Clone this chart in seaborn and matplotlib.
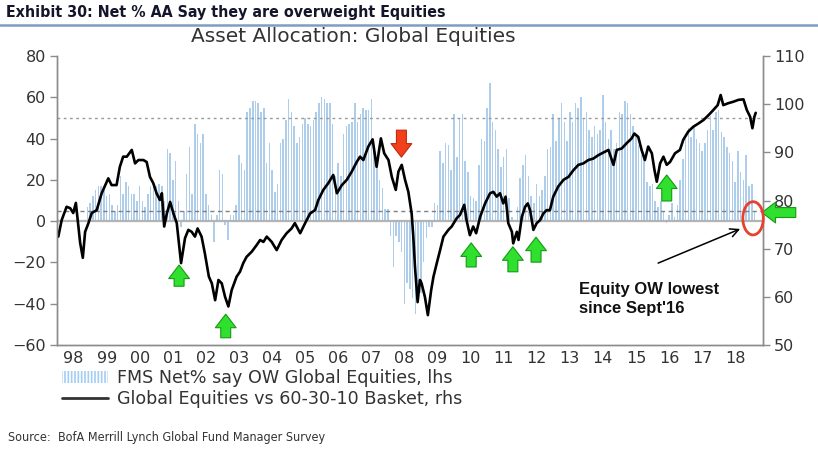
"""Asset Allocation: Global Equities - FMS net % overweight vs relative performance"""
import numpy as np
import pandas as pd
import matplotlib
matplotlib.use("Agg")
import matplotlib.pyplot as plt
import seaborn as sns
from matplotlib import font_manager
from matplotlib.lines import Line2D
from matplotlib.patches import Patch, Ellipse

# ---------------------------
# Datos
# ---------------------------
# FMS net % overweight global equities (monthly, lhs), first survey Dec 1998
fms_start = 1998 + 11 / 12
fms_1998 = [7]
fms_1999 = [9, 12, 15, 17, 17, 15, 12, 13, 8, 5, 8, 22]
fms_2000 = [13, 19, 17, 13, 13, 10, 17, 10, 7, 13, 17, 18]
fms_2001 = [17, 18, 17, 10, 35, 33, 20, 29, 10, -3, 5, 23]
fms_2002 = [36, 13, 47, 42, 38, 42, 13, 8, 3, -10, 3, 25]
fms_2003 = [23, -2, -9, 3, 3, 8, 32, 28, 25, 53, 55, 58]
fms_2004 = [58, 57, 53, 55, 28, 38, 25, 14, 18, 38, 40, 49]
fms_2005 = [59, 53, 46, 38, 41, 47, 50, 47, 46, 49, 53, 57]
fms_2006 = [60, 59, 57, 57, 47, 22, 28, 22, 42, 46, 47, 48]
fms_2007 = [57, 48, 52, 55, 54, 54, 59, 35, 27, 20, 16, 6]
fms_2008 = [6, -7, -22, -7, -10, -15, -40, -30, -33, -37, -45, -37]
fms_2009 = [-35, -20, -8, -3, -3, 9, 8, 34, 28, 38, 37, 25]
fms_2010 = [52, 31, 50, 52, 29, 24, 12, 11, 10, 27, 40, 39]
fms_2011 = [55, 67, 48, 44, 35, 26, 31, 35, 11, 2, 0, 7]
fms_2012 = [21, 27, 32, 22, 12, 9, 18, 12, 15, 22, 35, 36]
fms_2013 = [52, 39, 50, 57, 48, 39, 53, 48, 57, 55, 60, 50]
fms_2014 = [53, 44, 41, 46, 42, 44, 61, 48, 40, 44, 35, 38]
fms_2015 = [53, 52, 58, 57, 52, 46, 42, 37, 32, 30, 19, 17]
fms_2016 = [18, 10, 7, 10, 5, -1, 3, 9, 2, 8, 20, 30]
fms_2017 = [40, 45, 41, 46, 40, 38, 34, 38, 44, 51, 44, 53]
fms_2018 = [54, 43, 41, 36, 33, 29, 19, 34, 24, 20, 32, 17]
fms_2019 = [18, 5]

# Global equities vs 60-30-10 basket (rhs), sampled off the chart
line_year = [
    1998.04, 1998.14, 1998.29, 1998.40, 1998.49, 1998.57, 1998.63, 1998.70, 1998.78, 1998.85,
    1998.95, 1999.05, 1999.20, 1999.35, 1999.55, 1999.65, 1999.80, 1999.90, 2000.00, 2000.11,
    2000.26, 2000.36, 2000.46, 2000.61, 2000.71, 2000.81, 2000.91, 2001.01, 2001.11, 2001.17,
    2001.24, 2001.32, 2001.42, 2001.52, 2001.62, 2001.75, 2001.87, 2001.97, 2002.07, 2002.17,
    2002.25, 2002.37, 2002.47, 2002.59, 2002.68, 2002.78, 2002.88, 2002.98, 2003.08, 2003.18,
    2003.28, 2003.43, 2003.53, 2003.63, 2003.73, 2003.89, 2004.04, 2004.14, 2004.24, 2004.34,
    2004.49, 2004.64, 2004.79, 2004.94, 2005.09, 2005.19, 2005.35, 2005.50, 2005.65, 2005.80,
    2005.90, 2006.05, 2006.20, 2006.35, 2006.46, 2006.61, 2006.76, 2006.91, 2007.06, 2007.16,
    2007.26, 2007.41, 2007.54, 2007.66, 2007.79, 2007.89, 2008.02, 2008.12, 2008.24, 2008.32,
    2008.42, 2008.52, 2008.62, 2008.72, 2008.77, 2008.82, 2008.90, 2008.97, 2009.02, 2009.12,
    2009.21, 2009.31, 2009.38, 2009.48, 2009.58, 2009.68, 2009.83, 2009.93, 2010.08, 2010.18,
    2010.31, 2010.38, 2010.48, 2010.58, 2010.67, 2010.79, 2010.94, 2011.09, 2011.19, 2011.29,
    2011.39, 2011.49, 2011.56, 2011.64, 2011.75, 2011.79, 2011.90, 2011.95, 2012.05, 2012.15,
    2012.23, 2012.30, 2012.40, 2012.50, 2012.60, 2012.70, 2012.80, 2012.90, 2013.00, 2013.15,
    2013.31, 2013.46, 2013.61, 2013.76, 2013.91, 2014.06, 2014.21, 2014.36, 2014.47, 2014.67,
    2014.82, 2014.92, 2015.07, 2015.22, 2015.37, 2015.45, 2015.57, 2015.67, 2015.77, 2015.87,
    2015.98, 2016.06, 2016.13, 2016.23, 2016.33, 2016.43, 2016.53, 2016.68, 2016.83, 2016.93,
    2017.08, 2017.23, 2017.39, 2017.54, 2017.69, 2017.84, 2017.97, 2018.06, 2018.14, 2018.29,
    2018.44, 2018.60, 2018.75, 2018.85, 2018.95, 2019.02, 2019.08, 2019.12,
]
line_value = [
    72.5, 75.9, 78.7, 78.4, 77.4, 79.5, 75.6, 71.2, 68.1, 73.5,
    75.3, 77.4, 78.0, 81.5, 84.6, 83.2, 83.2, 87.0, 89.1, 89.1,
    90.5, 87.7, 88.4, 88.4, 88.0, 84.9, 83.6, 81.5, 80.1, 81.5,
    74.6, 77.3, 79.7, 77.3, 75.3, 67.0, 72.2, 73.9, 73.5, 72.5,
    74.2, 72.5, 69.0, 64.2, 62.8, 59.3, 63.5, 62.8, 60.0, 58.0,
    61.4, 64.2, 65.2, 67.0, 68.3, 69.4, 70.8, 71.8, 71.4, 72.5,
    71.4, 69.7, 71.8, 73.2, 74.2, 75.3, 73.2, 75.3, 77.3, 78.0,
    80.1, 82.2, 83.6, 85.3, 81.5, 83.2, 84.3, 86.0, 88.0, 89.1,
    88.4, 91.2, 92.7, 87.0, 92.9, 89.8, 88.4, 84.9, 82.2, 86.0,
    87.4, 84.3, 81.8, 77.3, 72.5, 66.3, 58.9, 63.5, 62.8, 60.0,
    56.2, 61.4, 64.2, 67.0, 69.7, 72.5, 73.9, 74.6, 76.3, 77.0,
    79.1, 75.9, 72.8, 74.6, 73.2, 76.6, 79.4, 81.5, 81.8, 80.8,
    81.5, 79.4, 80.8, 75.3, 73.5, 71.1, 73.5, 71.8, 76.6, 78.7,
    79.4, 78.0, 73.9, 75.3, 75.9, 77.3, 78.0, 78.0, 80.8, 82.9,
    84.3, 84.9, 86.3, 87.4, 87.7, 88.4, 88.7, 89.4, 89.8, 90.5,
    87.4, 90.5, 90.8, 91.9, 92.9, 93.9, 93.2, 90.5, 88.4, 91.2,
    89.8, 86.3, 83.9, 87.7, 89.1, 87.4, 88.0, 89.8, 90.5, 92.6,
    94.3, 95.3, 96.0, 96.7, 97.7, 98.8, 99.8, 101.9, 99.8, 100.2,
    100.5, 100.9, 101.0, 98.8, 97.4, 95.0, 97.4, 98.2,
]

year_labels = ['98', '99', '00', '01', '02', '03', '04', '05', '06', '07', '08',
               '09', '10', '11', '12', '13', '14', '15', '16', '17', '18']
upper_ref = 50
lower_ref = 5

fms_values = (fms_1998 + fms_1999 + fms_2000 + fms_2001 + fms_2002 + fms_2003 + fms_2004
              + fms_2005 + fms_2006 + fms_2007 + fms_2008 + fms_2009 + fms_2010 + fms_2011
              + fms_2012 + fms_2013 + fms_2014 + fms_2015 + fms_2016 + fms_2017 + fms_2018
              + fms_2019)
df_fms = pd.DataFrame({'year': np.round(fms_start + np.arange(len(fms_values)) / 12, 4),
                       'fms': fms_values})
df_line = pd.DataFrame({'year': line_year, 'rel': line_value})

# ---------------------------
# Fuentes
# ---------------------------
sns.set_style('white')
plt.rcParams['font.family'] = ['DejaVu Sans']
plt.rcParams['hatch.linewidth'] = 1.2
names = {f.name for f in font_manager.fontManager.ttflist}
if 'Liberation Sans Narrow' in names:
    narrow = dict(family='Liberation Sans Narrow')
else:
    narrow = dict(family='DejaVu Sans', fontstretch='condensed')

grey_txt = '#333333'
bar_col = '#a3cdf4'

fig = plt.figure(figsize=(8.18, 4.49), dpi=100)
ax = fig.add_axes([57 / 818, 1 - 345 / 449, 706 / 818, 289 / 449])
ax2 = ax.twinx()

sns.barplot(data=df_fms, x='year', y='fms', native_scale=True, width=0.55,
            color=bar_col, linewidth=0, errorbar=None, ax=ax)
ax.axhline(0, color='#b3b3b3', lw=1.6, zorder=1)
ax.axhline(upper_ref, color='#9a9a9a', lw=1, ls=(0, (2, 2.5)), zorder=1)
ax.axhline(lower_ref, color='#808080', lw=1, ls=(0, (3, 2.5)), zorder=1)

sns.lineplot(data=df_line, x='year', y='rel', color='black', lw=1.9, ax=ax2)

ax.set_xlim(1998, 2019.34)
ax.set_ylim(-60, 80)
ax2.set_ylim(50, 110)
ax.set_yticks(range(-60, 81, 20))
ax2.set_yticks(range(50, 111, 10))
ax.set_xticks(range(1998, 2020), labels=[])
ax.set_xticks([1998.5 + i for i in range(len(year_labels))], labels=year_labels, minor=True)

for a in (ax, ax2):
    a.set_xlabel('')
    a.set_ylabel('')
    a.spines['top'].set_visible(False)
    for s in ('left', 'right', 'bottom'):
        a.spines[s].set_color('#8c8c8c')
        a.spines[s].set_linewidth(1)
    a.tick_params(axis='y', direction='out', length=5, width=1, color='#8c8c8c',
                  labelsize=11.5, labelcolor=grey_txt, pad=3)
ax.tick_params(axis='x', which='major', direction='out', length=4, width=1, color='#8c8c8c')
ax.tick_params(axis='x', which='minor', length=0, labelsize=11.5, labelcolor=grey_txt, pad=4)

# ---------------------------
# Anotaciones
# ---------------------------
green = dict(arrowstyle='simple,head_length=0.75,head_width=1.15,tail_width=0.55',
             fc='#2fe02f', ec='#169a16', lw=0.8, mutation_scale=13, shrinkA=0, shrinkB=0)
up_arrows = [(2001.69, 66.6, 62.2), (2003.10, 56.4, 51.5), (2010.52, 71.2, 66.2),
             (2011.78, 70.4, 65.2), (2012.48, 72.4, 67.2), (2016.43, 85.3, 79.9)]
for xa, tip, tail in up_arrows:
    ax2.annotate('', xy=(xa, tip), xytext=(xa, tail), arrowprops=green, annotation_clip=False)

red = dict(green, fc='#f0401c', ec='#c02a10')
ax2.annotate('', xy=(2008.41, 89.0), xytext=(2008.41, 94.6), arrowprops=red,
             annotation_clip=False)
ax2.annotate('', xy=(2019.31, 77.5), xytext=(2020.33, 77.5), arrowprops=green,
             annotation_clip=False)

ax2.add_patch(Ellipse((2019.04, 76.3), 0.62, 6.9, fill=False, ec='#e8402f', lw=2,
                      clip_on=False, zorder=5))
ax2.annotate('', xy=(2018.65, 74.1), xytext=(2016.17, 67.0),
             arrowprops=dict(arrowstyle='->,head_length=0.6,head_width=0.3', color='black',
                             lw=1.1, shrinkA=0, shrinkB=0))
ax2.text(2013.78, 59.5, "Equity OW lowest\nsince Sept'16", ha='left', va='center',
         fontsize=12, fontweight='bold', family='Liberation Sans', linespacing=1.3,
         color='#111111')

# ---------------------------
# Títulos, leyenda y fuente
# ---------------------------
fig.text(6 / 818, 1 - 12 / 449, 'Exhibit 30: Net % AA Say they are overweight Equities',
         fontsize=11.4, fontweight='bold', color='#14142a', va='center', **narrow)
fig.add_artist(Line2D([0, 1], [1 - 24.5 / 449] * 2, transform=fig.transFigure,
                      color='#7f9cc3', lw=1.8))
fig.text(353 / 818, 1 - 37 / 449, 'Asset Allocation: Global Equities', ha='center',
         va='center', fontsize=14.5, color=grey_txt)

handles = [Patch(facecolor='white', edgecolor=bar_col, hatch='|||||', lw=0),
           Line2D([], [], color='#333333', lw=2)]
labels = ['FMS Net% say OW Global Equities, lhs', 'Global Equities vs 60-30-10 Basket, rhs']
fig.legend(handles, labels, loc='upper left', bbox_to_anchor=(62 / 818, 1 - 369 / 449),
           frameon=False, fontsize=12.6, handlelength=2.6, handletextpad=0.55,
           labelspacing=0.15, borderpad=0, borderaxespad=0, labelcolor=grey_txt)

fig.text(8 / 818, 1 - 437 / 449, 'Source:  BofA Merrill Lynch Global Fund Manager Survey',
         fontsize=9, color=grey_txt, va='center', **narrow)

fig.savefig('out.png', dpi=100)
plt.close(fig)
